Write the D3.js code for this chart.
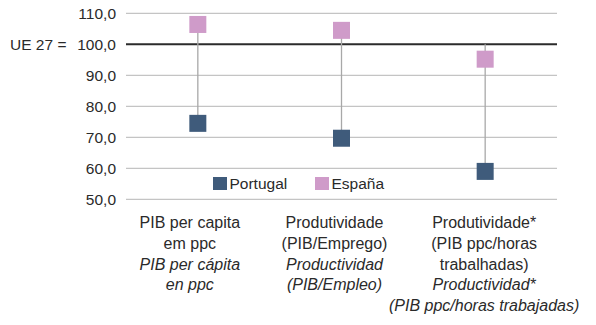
<!DOCTYPE html>
<html>
<head>
<meta charset="utf-8">
<script src="https://cdn.jsdelivr.net/npm/d3@7"></script>
<style>
  html, body { margin: 0; padding: 0; background: #fff; }
  svg { display: block; }
  text { font-family: "Liberation Sans", Arial, sans-serif; fill: #2a2a2a; }
</style>
</head>
<body>
<svg id="chart" width="596" height="325"></svg>
<script>
// Categories: each entry holds the Portuguese lines then the Spanish (italic) lines
const categories = ["pc", "prod", "prodh"];
const labelsPT = [
  ["PIB per capita", "em ppc"],
  ["Produtividade", "(PIB/Emprego)"],
  ["Produtividade*", "(PIB ppc/horas", "trabalhadas)"]
];
const labelsES = [
  ["PIB per cápita", "en ppc"],
  ["Productividad", "(PIB/Empleo)"],
  ["Productividad*", "(PIB ppc/horas trabajadas)"]
];
const seriesNames = ["Portugal", "España"];
const portugal = [74.5, 69.7, 59.0];
const espana = [106.4, 104.5, 95.2];
const euLevel = 100;
const yTicks = [50, 60, 70, 80, 90, 100, 110];

const colors = { Portugal: "#3f5b7b", "España": "#cf9bc9" };

const svg = d3.select("#chart");
const plotLeft = 126, plotRight = 557, plotTop = 13.3, plotBottom = 199.3;

const x = d3.scaleBand().domain(categories).range([plotLeft, plotRight]);
const y = d3.scaleLinear().domain([50, 110]).range([plotBottom, plotTop]);

// Horizontal gridlines
svg.append("g").selectAll("line").data(yTicks.filter(t => t !== euLevel)).join("line")
  .attr("x1", plotLeft).attr("x2", plotRight)
  .attr("y1", d => y(d)).attr("y2", d => y(d))
  .attr("stroke", "#c4c4c4").attr("stroke-width", 1.3);

// Y axis tick labels
const fmt = d => d3.format(".1f")(d).replace(".", ",");
svg.append("g").selectAll("text").data(yTicks).join("text")
  .attr("x", 116).attr("y", d => y(d))
  .attr("dy", "0.35em")
  .attr("text-anchor", "end")
  .style("font-size", "15.5px")
  .text(fmt);

svg.append("text")
  .attr("x", 10).attr("y", y(euLevel)).attr("dy", "0.35em")
  .style("font-size", "15.5px")
  .text("UE 27 =");

// EU-27 reference line
svg.append("line")
  .attr("x1", plotLeft).attr("x2", plotRight)
  .attr("y1", y(euLevel)).attr("y2", y(euLevel))
  .attr("stroke", "#2b2b2b").attr("stroke-width", 2);

// High-low lines spanning the EU level and both countries
const rows = categories.map((c, i) => ({ c, pt: portugal[i], es: espana[i] }));
svg.append("g").selectAll("line").data(rows).join("line")
  .attr("x1", d => x(d.c) + x.bandwidth() / 2)
  .attr("x2", d => x(d.c) + x.bandwidth() / 2)
  .attr("y1", d => y(Math.max(d.pt, d.es, euLevel)))
  .attr("y2", d => y(Math.min(d.pt, d.es, euLevel)))
  .attr("stroke", "#a8a8a8").attr("stroke-width", 1.3);

// Square markers
const ms = 17;
[["Portugal", portugal], ["España", espana]].forEach(([name, vals]) => {
  svg.append("g").selectAll("rect").data(vals).join("rect")
    .attr("x", (d, i) => x(categories[i]) + x.bandwidth() / 2 - ms / 2)
    .attr("y", d => y(d) - ms / 2)
    .attr("width", ms).attr("height", ms)
    .attr("fill", colors[name]);
});

// Legend
const legendX = [213, 315];
const lg = svg.append("g");
seriesNames.forEach((name, i) => {
  lg.append("rect")
    .attr("x", legendX[i]).attr("y", 177)
    .attr("width", 14).attr("height", 13)
    .attr("fill", colors[name]);
  lg.append("text")
    .attr("x", legendX[i] + 16.5).attr("y", 183.5).attr("dy", "0.35em")
    .style("font-size", "15.5px")
    .text(name);
});

// Category labels (wrapped lines, centred slightly left of each band)
const lineH = 20.6;
const labelTop = 228.3;
const labelShift = [-8, -7, -1];
categories.forEach((c, i) => {
  const cx = x(c) + x.bandwidth() / 2 + labelShift[i];
  const lines = labelsPT[i].map(t => ({ t, it: false }))
    .concat(labelsES[i].map(t => ({ t, it: true })));
  svg.append("g").selectAll("text").data(lines).join("text")
    .attr("x", cx)
    .attr("y", (d, j) => labelTop + j * lineH)
    .attr("text-anchor", "middle")
    .style("font-size", "16px")
    .style("font-style", d => d.it ? "italic" : "normal")
    .text(d => d.t);
});
</script>
</body>
</html>
